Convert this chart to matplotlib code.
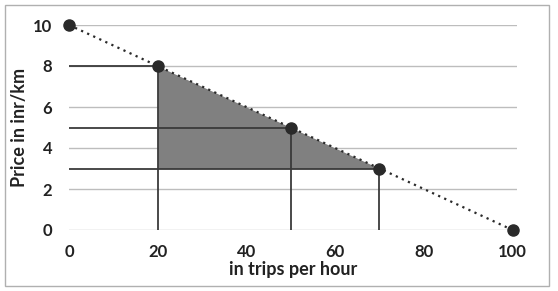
import matplotlib.pyplot as plt
from matplotlib.patches import Rectangle

# demand line points
qty = [0, 20, 50, 70, 100]
price = [10, 8, 5, 3, 0]
# marked points with guide lines
guide_q = [20, 50, 70]
guide_p = [8, 5, 3]

xticks = [0, 20, 40, 60, 80, 100]
yticks = [0, 2, 4, 6, 8, 10]

plt.rcParams['font.family'] = ['Lato', 'DejaVu Sans']

fig = plt.figure(figsize=(5.58, 2.91), dpi=100)
ax = fig.add_axes([69/558, 1 - 230/291, 448/558, 205/291])

# grid
for y in yticks:
    ax.axhline(y, color='#bdbdbd', lw=1, zorder=0)

# shaded area between line and lowest price
ax.fill_between([guide_q[0], guide_q[-1]], [guide_p[0], guide_p[-1]], guide_p[-1],
                color='#808080', lw=0, zorder=1)

# guide lines
for q, p in zip(guide_q, guide_p):
    ax.plot([0, q], [p, p], color='#3a3a3a', lw=1.3, zorder=2)
    ax.plot([q, q], [0, p], color='#3a3a3a', lw=1.3, zorder=2)

ax.plot(qty, price, color='#2a2a2a', lw=1.6, ls=(0, (1, 2)), zorder=3)
ax.plot(qty, price, 'o', color='#2a2a2a', ms=8, zorder=4, clip_on=False)

ax.set_xlim(0, 101)
ax.set_ylim(0, 10)
ax.set_xticks(xticks)
ax.set_yticks(yticks)
ax.tick_params(axis='x', length=0, labelsize=12, colors='#222222', pad=10)
ax.tick_params(axis='y', length=0, labelsize=12, colors='#222222', pad=12)
for lab in ax.get_xticklabels() + ax.get_yticklabels():
    lab.set_fontweight('bold')
for s in ax.spines.values():
    s.set_visible(False)

ax.set_xlabel('in trips per hour', fontsize=13, fontweight='bold', color='#222222', labelpad=1)
ax.set_ylabel('Price in inr/km', fontsize=13, fontweight='bold', color='#222222')
ax.yaxis.set_label_coords(-0.092, 0.5)

fig.patches.append(Rectangle((5/558, 5/291), 544/558, 281/291, transform=fig.transFigure,
                             fill=False, edgecolor='#b0b0b0', lw=1))

fig.savefig('out.png', dpi=100)
